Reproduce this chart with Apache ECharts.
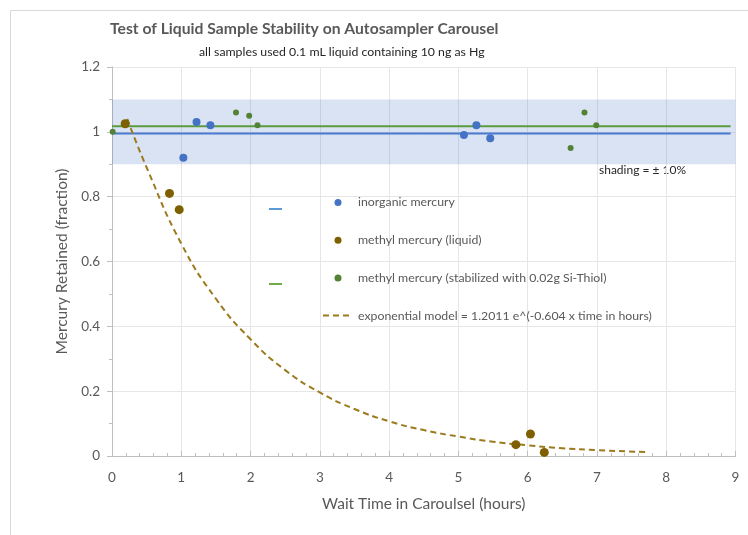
<!DOCTYPE html>
<html><head><meta charset="utf-8">
<script src="https://cdn.jsdelivr.net/npm/echarts@6/dist/echarts.min.js"></script>
<style>html,body{margin:0;padding:0;background:#fff}#c{width:748px;height:535px}</style>
</head><body><div id="c"></div><script>
// ---- data ----
const inorgX = [1.03, 1.22, 1.42, 5.08, 5.26, 5.46];
const inorgY = [0.92, 1.03, 1.02, 0.99, 1.02, 0.98];
const mmLiqX = [0.19, 0.83, 0.97, 5.83, 6.04, 6.24];
const mmLiqY = [1.025, 0.81, 0.76, 0.035, 0.068, 0.011];
const mmStabX = [0.01, 1.79, 1.98, 2.10, 6.62, 6.82, 6.99];
const mmStabY = [1.00, 1.06, 1.05, 1.02, 0.95, 1.06, 1.02];
const modelX = [0.22, 0.5, 1.0, 1.5, 2.0, 2.5, 3.0, 3.5, 4.0, 4.5, 5.0, 5.5, 6.0, 6.5, 7.0, 7.75];
const modelY = [1.04, 0.89, 0.655, 0.485, 0.36, 0.265, 0.196, 0.145, 0.107, 0.08, 0.06, 0.044, 0.033, 0.024, 0.018, 0.012];
const inorgMeanX = [0, 8.93];
const inorgMeanY = [0.995, 0.995];
const stabMeanX = [0, 8.93];
const stabMeanY = [1.017, 1.017];
const bandX = [0, 9];
const bandY = [0.9, 1.1];
const xTicks = [0, 1, 2, 3, 4, 5, 6, 7, 8, 9];
const yTicks = [0, 0.2, 0.4, 0.6, 0.8, 1, 1.2];
const names = ['inorganic mercury', 'methyl mercury (liquid)', 'methyl mercury (stabilized with 0.02g Si-Thiol)', 'exponential model = 1.2011 e^(-0.604 x time in hours)'];

const zip = (a, b) => a.map((v, i) => [v, b[i]]);
const FONT = 'Lato';
const chart = echarts.init(document.getElementById('c'), null, {renderer: 'canvas'});
chart.setOption({
  animation: false,
  backgroundColor: '#fff',
  textStyle: {fontFamily: FONT},
  title: [
    {text: 'Test of Liquid Sample Stability on Autosampler Carousel', left: 110, top: 21, padding: 0,
     textStyle: {fontFamily: FONT, fontSize: 15.7, fontWeight: 'bold', color: '#595959'}},
    {text: 'all samples used 0.1 mL liquid containing 10 ng as Hg', left: 199, top: 46, padding: 0,
     textStyle: {fontFamily: FONT, fontSize: 12.3, fontWeight: 'normal', color: '#262626'}}
  ],
  graphic: [
    {type: 'rect', left: 8, top: 8, z: -10, shape: {width: 800, height: 600},
     style: {fill: 'none', stroke: '#d9d9d9', lineWidth: 1}},
    {type: 'text', left: 599, top: 164, style: {text: 'shading = \u00b1 10%', fontFamily: FONT, fontSize: 12, fill: '#262626'}}
  ],
  grid: {left: 112, right: 12.5, top: 67, bottom: 79},
  legend: [
    {data: [
       {name: names[0]}, {name: names[1]}, {name: names[2]},
       {name: names[3], itemStyle: {opacity: 0}}
     ],
     orient: 'vertical', left: 322, top: 195, padding: 0, itemWidth: 30, itemHeight: 7, itemGap: 22.7,
     selectedMode: false,
     textStyle: {fontFamily: FONT, fontSize: 12.3, color: '#595959', lineHeight: 15}},
    {data: [{name: 'inorganic mean', itemStyle: {opacity: 0}, lineStyle: {color: '#5B9BD5'}},
            {name: 'stabilized mean', itemStyle: {opacity: 0}, lineStyle: {color: '#70AD47'}}],
     orient: 'vertical', left: 268, top: 202, padding: 0, itemWidth: 13, itemHeight: 14, itemGap: 61,
     selectedMode: false, formatter: () => ' ',
     textStyle: {fontSize: 11, lineHeight: 14}}
  ],
  xAxis: {
    type: 'value', min: 0, max: 9, interval: 1,
    name: 'Wait Time in Caroulsel (hours)', nameLocation: 'middle', nameGap: 40,
    nameTextStyle: {fontFamily: FONT, fontSize: 15.5, color: '#595959'},
    axisLine: {lineStyle: {color: '#bfbfbf'}},
    axisTick: {inside: true, length: 5, lineStyle: {color: '#bfbfbf'}},
    minorTick: {show: true, splitNumber: 5, length: 3, lineStyle: {color: '#bfbfbf'}},
    axisLabel: {fontFamily: FONT, fontSize: 13.5, color: '#595959', margin: 15,
                formatter: v => String(xTicks.find(t => Math.abs(t - v) < 1e-9) ?? v)},
    splitLine: {show: true, lineStyle: {color: '#e6e6e6'}}
  },
  yAxis: {
    type: 'value', min: 0, max: 1.2, interval: 0.2,
    name: 'Mercury Retained (fraction)', nameLocation: 'middle', nameGap: 37,
    nameTextStyle: {fontFamily: FONT, fontSize: 15.5, color: '#595959'},
    axisLine: {show: true, lineStyle: {color: '#bfbfbf'}},
    axisTick: {show: true, length: 5, lineStyle: {color: '#bfbfbf'}},
    minorTick: {show: true, splitNumber: 2, length: 3, lineStyle: {color: '#bfbfbf'}},
    axisLabel: {fontFamily: FONT, fontSize: 13.5, color: '#595959', margin: 12,
                formatter: v => String(yTicks.find(t => Math.abs(t - v) < 1e-9) ?? v)},
    splitLine: {show: true, lineStyle: {color: '#e6e6e6'}}
  },
  series: [
    {name: 'inorganic mean', type: 'line', data: zip(inorgMeanX, inorgMeanY), symbol: 'none',
     lineStyle: {color: '#4A7BD0', width: 2}, itemStyle: {color: '#4A7BD0'}, z: 2,
     markArea: {silent: true, itemStyle: {color: 'rgba(68,114,196,0.2)'},
       data: [[{xAxis: bandX[0], yAxis: bandY[0]}, {xAxis: bandX[1], yAxis: bandY[1]}]]}},
    {name: 'stabilized mean', type: 'line', data: zip(stabMeanX, stabMeanY), symbol: 'none',
     lineStyle: {color: '#5B9B3F', width: 2}, itemStyle: {color: '#5B9B3F'}, z: 2},
    {name: names[3], type: 'line', data: zip(modelX, modelY), symbol: 'none', smooth: true,
     lineStyle: {color: '#9C7A1E', width: 2, type: [6, 4]}, itemStyle: {color: '#9C7A1E'}, z: 3},
    {name: names[0], type: 'scatter', data: zip(inorgX, inorgY), symbol: 'circle', symbolSize: 8,
     itemStyle: {color: '#4472C4', opacity: 1}, z: 4},
    {name: names[1], type: 'scatter', data: zip(mmLiqX, mmLiqY), symbol: 'circle', symbolSize: 9,
     itemStyle: {color: '#7F6000', opacity: 1}, z: 4},
    {name: names[2], type: 'scatter', data: zip(mmStabX, mmStabY), symbol: 'circle', symbolSize: 6,
     itemStyle: {color: '#548235', opacity: 1}, z: 5}
  ]
});
</script></body></html>
